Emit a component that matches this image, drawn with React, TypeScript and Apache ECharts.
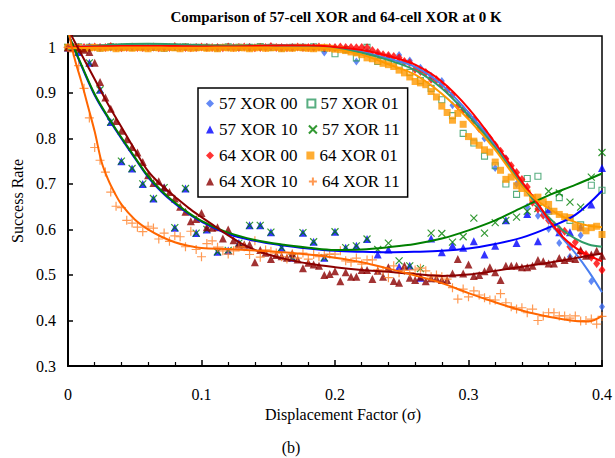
import React, { useEffect, useRef } from "react";
import * as echarts from "echarts";

const FONT = "Liberation Serif, DejaVu Serif, serif";

// ---------- categories / names ----------
const SERIES_NAMES = [
  "57 XOR 00", "57 XOR 01", "57 XOR 10", "57 XOR 11",
  "64 XOR 00", "64 XOR 01", "64 XOR 10", "64 XOR 11",
];
const X_TICKS = [0, 0.1, 0.2, 0.3, 0.4];
const Y_TICKS = [0.3, 0.4, 0.5, 0.6, 0.7, 0.8, 0.9, 1];

// x grids of the two cell sizes (57-cell sampled every 0.008, 64-cell every 0.004)
const X57 = Array.from({ length: 51 }, (_, i) => +(i * 0.008).toFixed(3));
const X64 = Array.from({ length: 101 }, (_, i) => +(i * 0.004).toFixed(3));

// ---------- measured values ----------
const S57_00 = [1, 1, 1.002, 1, 0.999, 1, 1.001, 1, 1, 0.999, 1.001, 1, 1, 1.001, 0.999, 1, 1, 1.001, 1, 1, 0.999, 1, 1.001, 1,
  0.989, 0.998, 0.995, 0.969, 0.99, 0.985, 0.98, 0.983, 0.971, 0.955, 0.937, 0.926, 0.873, 0.864, 0.84, 0.8, 0.735, 0.756, 0.7, 0.65, 0.63, 0.601, 0.57, 0.54, 0.587, 0.486, 0.43];
const S57_01 = [1, 1.001, 1, 0.999, 1.002, 1, 1, 1.001, 1, 0.998, 1, 1.001, 1, 1, 0.999, 1.001, 1, 1, 1.002, 1, 0.999, 1, 1, 1.001, 0.998,
  0.986, 0.995, 0.977, 1.0, 0.969, 0.97, 0.96, 0.945, 0.927, 0.91, 0.885, 0.85, 0.811, 0.79, 0.761, 0.74, 0.7, 0.677, 0.712, 0.717, 0.64, 0.67, 0.62, 0.61, 0.697, 0.686];
const S57_10 = [1.0, 0.99, 0.966, 0.907, 0.836, 0.75, 0.734, 0.7, 0.668, 0.692, 0.604, 0.69, 0.592, 0.6, 0.551, 0.554, 0.57, 0.609, 0.609, 0.594,
  0.56, 0.538, 0.593, 0.573, 0.538, 0.595, 0.56, 0.564, 0.579, 0.545, 0.556, 0.518, 0.52, 0.494, 0.58, 0.55, 0.565, 0.56, 0.574, 0.545,
  0.564, 0.62, 0.57, 0.634, 0.574, 0.644, 0.594, 0.594, 0.606, 0.655, 0.735];
const S57_11 = [1.0, 0.99, 0.966, 0.907, 0.836, 0.75, 0.734, 0.7, 0.668, 0.692, 0.604, 0.69, 0.592, 0.6, 0.551, 0.554, 0.57, 0.609, 0.609, 0.594,
  0.56, 0.538, 0.593, 0.573, 0.538, 0.595, 0.56, 0.564, 0.579,
  0.556, 0.57, 0.531, 0.52, 0.514, 0.592, 0.591, 0.572, 0.584, 0.625, 0.592, 0.615, 0.62, 0.627, 0.64, 0.646, 0.684, 0.68, 0.66, 0.649, 0.715, 0.769];
const S64_00 = [1, 1.001, 1, 1, 0.999, 1.001, 1, 1, 1.002, 1,
  0.999, 1, 1.001, 1, 1, 1, 1.001, 0.999, 1, 1,
  1.002, 1, 1, 0.999, 1, 1.001, 1, 1, 1, 0.999,
  1.001, 1, 1, 1.001, 1, 0.999, 1, 1, 1.002, 1,
  1, 0.999, 1, 1.001, 1, 1, 1, 1.001, 0.999, 1,
  1, 1.001, 1, 1, 0.999, 1,
  0.999, 0.993, 0.989, 0.984, 0.982, 0.98, 0.977, 0.969, 0.966, 0.952, 0.947, 0.945, 0.93, 0.929, 0.918, 0.907, 0.896, 0.871, 0.862, 0.851,
  0.84, 0.822, 0.815, 0.8, 0.785, 0.772, 0.755, 0.74, 0.725, 0.71, 0.693, 0.66, 0.645, 0.631, 0.62, 0.609, 0.6, 0.596, 0.562, 0.572,
  0.55, 0.545, 0.539, 0.525, 0.511];
const S64_01 = [1, 0.998, 1, 0.997, 0.999, 1, 0.998, 0.999, 1, 0.997,
  0.999, 1, 0.998, 1, 0.999, 0.997, 1, 0.999, 0.998, 1,
  0.999, 0.997, 1, 0.998, 0.999, 1, 0.998, 0.999, 0.997, 1,
  0.999, 0.998, 1, 0.999, 0.997, 0.999, 1, 0.998, 0.999, 1,
  0.997, 0.999, 0.998, 1, 0.999, 0.998, 0.997, 0.999, 1, 0.998,
  0.996, 0.995, 0.993, 0.99, 0.988, 0.984,
  0.977, 0.975, 0.97, 0.965, 0.962, 0.958, 0.95, 0.944, 0.935, 0.925, 0.922, 0.918, 0.903, 0.891, 0.871, 0.857, 0.84, 0.855, 0.831, 0.804,
  0.794, 0.785, 0.775, 0.77, 0.748, 0.73, 0.71, 0.715, 0.696, 0.69, 0.68, 0.67, 0.671, 0.661, 0.655, 0.64, 0.633, 0.628, 0.626, 0.606,
  0.603, 0.597, 0.604, 0.607, 0.589];
const S64_10 = [1.0, 1.0, 0.998, 0.995, 0.99, 0.966, 0.924, 0.89, 0.865, 0.838,
  0.817, 0.798, 0.781, 0.769, 0.748, 0.719, 0.702, 0.706, 0.692, 0.682,
  0.668, 0.65, 0.639, 0.618, 0.623, 0.636, 0.605, 0.604, 0.605, 0.58,
  0.6, 0.576, 0.567, 0.567, 0.567, 0.528, 0.555, 0.549, 0.535, 0.544,
  0.541, 0.538, 0.547, 0.534, 0.515, 0.527, 0.523, 0.52, 0.5, 0.502,
  0.508, 0.486, 0.506, 0.496, 0.496, 0.511, 0.511, 0.491, 0.509, 0.496,
  0.517, 0.487, 0.483, 0.52, 0.494, 0.489, 0.496, 0.486, 0.493, 0.493,
  0.489, 0.489, 0.503, 0.535, 0.503, 0.523, 0.498, 0.5, 0.508, 0.517,
  0.506, 0.489, 0.52, 0.52, 0.52, 0.517, 0.517, 0.52, 0.533, 0.53,
  0.525, 0.525, 0.537, 0.533, 0.537, 0.535, 0.555, 0.542, 0.545, 0.553,
  0.542];
const S64_11 = [1.0, 0.99, 0.96, 0.91, 0.845, 0.78, 0.752, 0.726, 0.682, 0.651,
  0.648, 0.62, 0.614, 0.605, 0.595, 0.607, 0.603, 0.579, 0.592, 0.574,
  0.586, 0.584, 0.562, 0.596, 0.556, 0.54, 0.569, 0.575, 0.561, 0.553,
  0.546, 0.553, 0.561, 0.562, 0.545, 0.575, 0.539, 0.555, 0.552, 0.548,
  0.54, 0.535, 0.546, 0.537, 0.548, 0.535, 0.545, 0.54, 0.545, 0.546,
  0.546, 0.553, 0.531, 0.528, 0.537, 0.524, 0.533, 0.533, 0.511, 0.509,
  0.494, 0.52, 0.505, 0.51, 0.505, 0.511, 0.515, 0.509, 0.496, 0.5,
  0.496, 0.491, 0.472, 0.447, 0.469, 0.452, 0.465, 0.456, 0.45, 0.445,
  0.445, 0.459, 0.439, 0.43, 0.425, 0.428, 0.417, 0.425, 0.4, 0.41,
  0.417, 0.417, 0.41, 0.41, 0.405, 0.41, 0.399, 0.4, 0.403, 0.392,
  0.409];

// ---------- trend lines ----------
const TX_TOP = [0, 0.02, 0.04, 0.06, 0.08, 0.1, 0.12, 0.14, 0.16, 0.18, 0.2, 0.22, 0.24, 0.26, 0.28, 0.3, 0.32, 0.34, 0.35, 0.36, 0.37, 0.38, 0.39, 0.4];
const T57_00 = [1.0, 1.003, 1.004, 1.004, 1.003, 1.002, 1.002, 1.003, 1.004, 1.003, 1.0, 0.99, 0.975, 0.957, 0.918, 0.857, 0.785, 0.7, 0.66, 0.618, 0.582, 0.548, 0.508, 0.462];
const T57_01 = [0.996, 1.003, 1.007, 1.008, 1.007, 1.005, 1.004, 1.004, 1.004, 1.003, 0.998, 0.988, 0.972, 0.95, 0.91, 0.85, 0.78, 0.698, 0.66, 0.627, 0.6, 0.58, 0.567, 0.562];
const T64_00 = [1.0, 1.002, 1.003, 1.003, 1.003, 1.002, 1.002, 1.003, 1.004, 1.004, 1.001, 0.994, 0.981, 0.962, 0.925, 0.866, 0.79, 0.705, 0.665, 0.622, 0.585, 0.56, 0.543, 0.53];
const T64_01 = [0.998, 0.999, 1.0, 1.0, 0.999, 0.999, 1.0, 1.0, 0.999, 0.999, 0.996, 0.984, 0.963, 0.94, 0.898, 0.842, 0.775, 0.695, 0.667, 0.646, 0.629, 0.616, 0.608, 0.605];

const TX_LOW = [0, 0.01, 0.02, 0.03, 0.04, 0.05, 0.06, 0.07, 0.08, 0.09, 0.1, 0.12, 0.14, 0.16, 0.18, 0.2, 0.22, 0.24, 0.26, 0.28, 0.3, 0.32, 0.34, 0.36, 0.38, 0.4];
const T57_10 = [1.03, 0.96, 0.895, 0.845, 0.8, 0.757, 0.715, 0.683, 0.657, 0.635, 0.617, 0.59, 0.575, 0.565, 0.558, 0.553, 0.551, 0.55, 0.551, 0.553, 0.558, 0.568, 0.582, 0.604, 0.632, 0.685];
const T57_11 = [1.03, 0.962, 0.897, 0.847, 0.802, 0.759, 0.717, 0.685, 0.659, 0.637, 0.619, 0.593, 0.577, 0.567, 0.56, 0.555, 0.556, 0.561, 0.568, 0.58, 0.598, 0.62, 0.648, 0.675, 0.698, 0.723];

const TX_64_10 = [0, 0.01, 0.02, 0.03, 0.04, 0.05, 0.06, 0.07, 0.08, 0.09, 0.1, 0.11, 0.12, 0.13, 0.14, 0.15, 0.16, 0.18, 0.2, 0.22, 0.24, 0.26, 0.28, 0.3, 0.32, 0.34, 0.36, 0.38, 0.4];
const T64_10 = [1.04, 0.985, 0.93, 0.875, 0.825, 0.775, 0.728, 0.697, 0.672, 0.648, 0.627, 0.607, 0.587, 0.569, 0.555, 0.545, 0.537, 0.525, 0.517, 0.511, 0.507, 0.502, 0.498, 0.501, 0.509, 0.518, 0.527, 0.537, 0.547];

const TX_64_11 = [0, 0.005, 0.01, 0.015, 0.02, 0.025, 0.03, 0.035, 0.04, 0.05, 0.06, 0.07, 0.08, 0.09, 0.1, 0.12, 0.14, 0.16, 0.18, 0.2, 0.22, 0.24, 0.26, 0.28, 0.3, 0.32, 0.34, 0.36, 0.38, 0.39, 0.4];
const T64_11 = [1.04, 0.975, 0.925, 0.87, 0.815, 0.75, 0.71, 0.68, 0.655, 0.622, 0.6, 0.584, 0.572, 0.564, 0.559, 0.557, 0.554, 0.55, 0.545, 0.538, 0.528, 0.514, 0.499, 0.482, 0.46, 0.44, 0.422, 0.408, 0.399, 0.398, 0.41];

const COLORS = {
  c57_00: "#3C6CF2",
  c57_01: "#2E9A62",
  c57_10: "#0000FF",
  c57_11: "#008000",
  c64_00: "#FF0000",
  c64_01: "#FF9900",
  c64_10: "#8B0000",
  c64_11: "#FF7F27",
  l64_11: "#FF6600",
  l57_00: "#4A7FF0",
  l57_01: "#2E9B66",
};

const pairs = (xs: number[], ys: number[]) => ys.map((y, i) => [xs[i], y]);

function scatter(name: string, xs: number[], ys: number[], symbol: string, size: any, itemStyle: any) {
  return {
    name,
    type: "scatter",
    data: pairs(xs, ys),
    symbol,
    symbolSize: size,
    itemStyle,
    z: 2,
    clip: true,
  };
}

function trend(name: string, xs: number[], ys: number[], color: string) {
  return {
    name: name + " trend",
    type: "line",
    data: pairs(xs, ys),
    showSymbol: false,
    symbol: "none",
    smooth: 0.35,
    clip: true,
    silent: true,
    z: 3,
    lineStyle: { color, width: 2 },
  };
}

const X_PATH = "path://M0,0L8,8M8,0L0,8";
const PLUS_PATH = "path://M4,0L4,8M0,4L8,4";

export default function App() {
  const ref = useRef<HTMLDivElement>(null);
  useEffect(() => {
    if (!ref.current) return;
    const chart = echarts.init(ref.current, null, { renderer: "svg" });
    const option: any = {
      animation: false,
      backgroundColor: "#fff",
      grid: {
        left: 68, right: 11, top: 36, bottom: 92,
        show: true, borderColor: "#000", borderWidth: 1.5, containLabel: false,
      },
      graphic: [
        {
          type: "text",
          style: {
            text: "Comparison of 57-cell XOR and 64-cell XOR at 0 K",
            x: 336, y: 17, textAlign: "center", textVerticalAlign: "middle",
            fontFamily: FONT, fontWeight: "bold", fontSize: 15, fill: "#000",
          },
        },
        {
          type: "text",
          style: {
            text: "(b)", x: 291, y: 447, textAlign: "center", textVerticalAlign: "middle",
            fontFamily: FONT, fontSize: 16, fill: "#000",
          },
        },
      ],
      legend: {
        data: SERIES_NAMES,
        left: 198, top: 88, width: 200,
        orient: "horizontal",
        padding: [7, 8, 7, 8],
        itemGap: 9,
        itemWidth: 8, itemHeight: 8,
        borderColor: "#000", borderWidth: 1.5,
        backgroundColor: "#fff",
        textStyle: { fontFamily: FONT, fontSize: 17, color: "#000", lineHeight: 17 },
        selectedMode: false,
      },
      xAxis: {
        type: "value", min: 0, max: 0.4, interval: 0.1,
        name: "Displacement Factor (σ)", nameLocation: "middle", nameGap: 35,
        nameTextStyle: { fontFamily: FONT, fontSize: 16, color: "#000", padding: [0, 0, 0, 16] },
        axisLine: { show: true, onZero: false, lineStyle: { color: "#000", width: 2 } },
        axisTick: { show: true, inside: true, length: 6, lineStyle: { color: "#000", width: 1.5 } },
        minorTick: { show: true, splitNumber: 5, length: 4, lineStyle: { color: "#000", width: 1.2 } },
        splitLine: { show: false },
        axisLabel: {
          fontFamily: FONT, fontSize: 16, color: "#000", margin: 20,
          formatter: (v: number) => {
            const t = X_TICKS.find((k) => Math.abs(k - v) < 1e-6);
            return t === undefined ? "" : String(t);
          },
        },
      },
      yAxis: {
        type: "value", min: 0.3, max: 1.025, interval: 0.1,
        name: "Success Rate", nameLocation: "middle", nameGap: 43,
        nameTextStyle: { fontFamily: FONT, fontSize: 16, color: "#000" },
        axisLine: { show: true, onZero: false, lineStyle: { color: "#000", width: 2 } },
        axisTick: { show: true, inside: true, length: 5, lineStyle: { color: "#000", width: 1.5 } },
        splitLine: { show: false },
        axisLabel: {
          fontFamily: FONT, fontSize: 16, color: "#000", margin: 12,
          formatter: (v: number) => {
            const t = Y_TICKS.find((k) => Math.abs(k - v) < 1e-6);
            return t === undefined ? "" : String(t);
          },
        },
      },
      series: [
        scatter(SERIES_NAMES[0], X57, S57_00, "diamond", [6, 8], { color: COLORS.c57_00 }),
        scatter(SERIES_NAMES[1], X57, S57_01, "rect", 6, { color: "rgba(255,255,255,0)", borderColor: COLORS.c57_01, borderWidth: 1.1 }),
        scatter(SERIES_NAMES[2], X57, S57_10, "triangle", 8, { color: COLORS.c57_10 }),
        scatter(SERIES_NAMES[3], X57, S57_11, X_PATH, 7, { color: "none", borderColor: COLORS.c57_11, borderWidth: 1.2 }),
        scatter(SERIES_NAMES[4], X64, S64_00, "diamond", [7, 9], { color: COLORS.c64_00 }),
        scatter(SERIES_NAMES[5], X64, S64_01, "rect", 7, { color: COLORS.c64_01 }),
        scatter(SERIES_NAMES[6], X64, S64_10, "triangle", 8, { color: COLORS.c64_10 }),
        scatter(SERIES_NAMES[7], X64, S64_11, PLUS_PATH, 9, { color: "none", borderColor: COLORS.c64_11, borderWidth: 1.2 }),
        trend(SERIES_NAMES[0], TX_TOP, T57_00, COLORS.l57_00),
        trend(SERIES_NAMES[1], TX_TOP, T57_01, COLORS.l57_01),
        trend(SERIES_NAMES[2], TX_LOW, T57_10, COLORS.c57_10),
        trend(SERIES_NAMES[3], TX_LOW, T57_11, COLORS.c57_11),
        trend(SERIES_NAMES[4], TX_TOP, T64_00, COLORS.c64_00),
        trend(SERIES_NAMES[5], TX_TOP, T64_01, COLORS.c64_01),
        trend(SERIES_NAMES[6], TX_64_10, T64_10, COLORS.c64_10),
        trend(SERIES_NAMES[7], TX_64_11, T64_11, COLORS.l64_11),
      ],
    };
    chart.setOption(option);
    return () => chart.dispose();
  }, []);
  return (
    <div
      ref={ref}
      style={{ position: "fixed", left: 0, top: 0, width: 615, height: 458, background: "#fff" }}
    />
  );
}
